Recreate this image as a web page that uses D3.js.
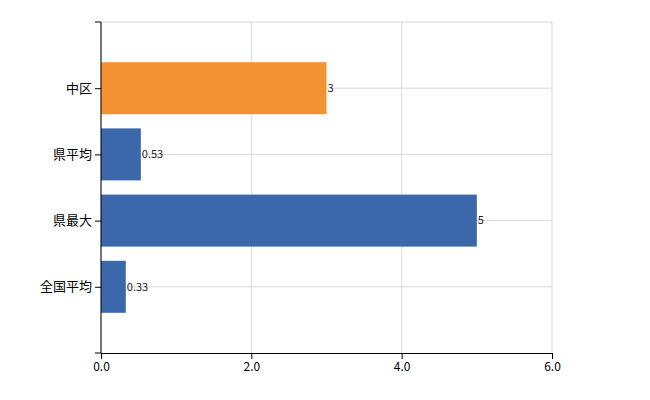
<!DOCTYPE html>
<html><head><meta charset="utf-8">
<script src="https://cdn.jsdelivr.net/npm/d3@7"></script>
<style>body{margin:0;background:#fff}</style>
</head><body>
<script>
// chart data
var categories = ["中区", "県平均", "県最大", "全国平均"];
var values = [3, 0.53, 5, 0.33];
var barColors = ["#f39232", "#3b68aa", "#3b68aa", "#3b68aa"];
var xTicks = [0, 2, 4, 6];

var svg = d3.select("body").append("svg").attr("width", 650).attr("height", 400)
    .style("font-family", "'Noto Sans CJK JP', 'DejaVu Sans', sans-serif");

var x = d3.scaleLinear().domain([0, 6]).range([101, 552]);
var y = d3.scalePoint().domain(categories).range([22, 353]).padding(1);
var barH = 52;

// grid
svg.selectAll("line.vg").data(xTicks).enter().append("line")
    .attr("x1", function(d) { return x(d); }).attr("x2", function(d) { return x(d); })
    .attr("y1", 22).attr("y2", 353).attr("stroke", "#d8d8d8");
svg.selectAll("line.hg").data(categories).enter().append("line")
    .attr("x1", 101).attr("x2", 552)
    .attr("y1", function(d) { return y(d); }).attr("y2", function(d) { return y(d); })
    .attr("stroke", "#d8d8d8");
svg.append("line").attr("x1", 101).attr("x2", 552).attr("y1", 22).attr("y2", 22).attr("stroke", "#d8d8d8");

// bars
svg.selectAll("rect").data(values).enter().append("rect")
    .attr("x", x(0))
    .attr("y", function(d, i) { return y(categories[i]) - barH / 2; })
    .attr("width", function(d) { return x(d) - x(0); })
    .attr("height", barH)
    .attr("fill", function(d, i) { return barColors[i]; });

svg.selectAll("text.val").data(values).enter().append("text")
    .attr("x", function(d) { return x(d) + 1; })
    .attr("y", function(d, i) { return y(categories[i]); })
    .attr("dy", "0.35em").attr("font-size", 11).attr("fill", "#222")
    .text(function(d) { return d; });

// axes
var xAxis = svg.append("g").attr("transform", "translate(0,353)")
    .call(d3.axisBottom(x).tickValues(xTicks).tickSize(6).tickSizeOuter(0));
var yAxis = svg.append("g").attr("transform", "translate(101,0)")
    .call(d3.axisLeft(y).tickSize(6).tickSizeOuter(0));
yAxis.select(".domain").attr("d", "M-6,22H0V353H-6");
svg.selectAll(".tick text").attr("font-size", 13).attr("fill", "#000")
    .style("font-family", "'Noto Sans CJK JP', 'DejaVu Sans', sans-serif");
xAxis.selectAll(".tick text").attr("font-size", 12);
</script>
</body></html>
